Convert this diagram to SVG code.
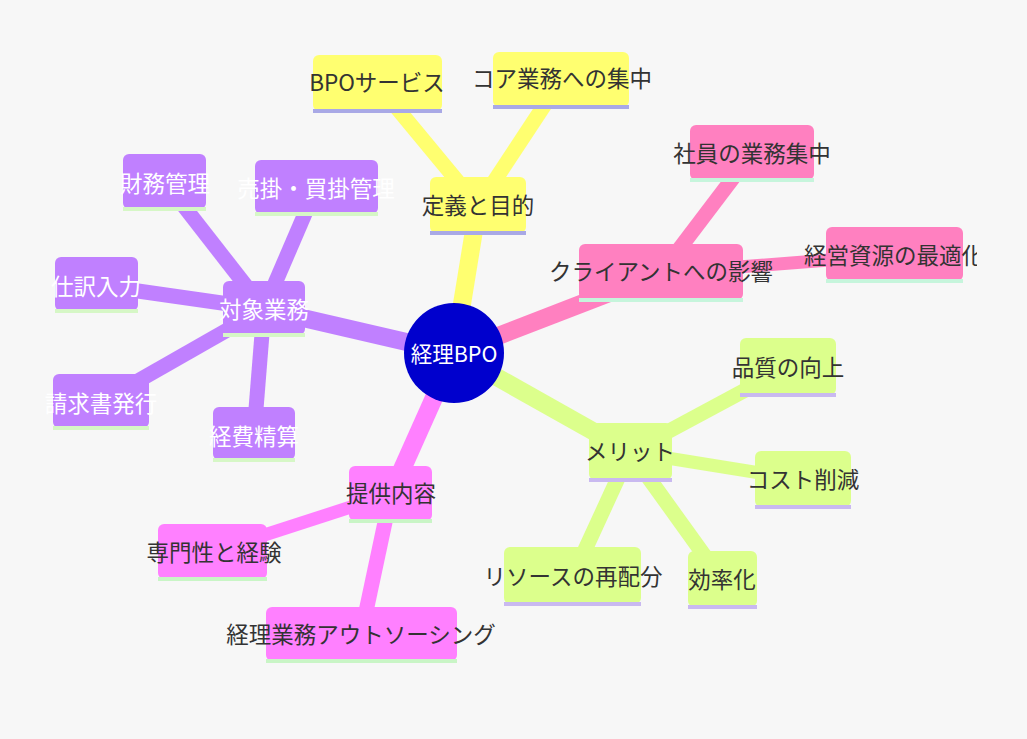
<svg xmlns="http://www.w3.org/2000/svg" width="1027" height="739" viewBox="0 0 1027 739">
<style>
  text{font-family:"Noto Sans CJK JP","Noto Sans",sans-serif;font-size:22.5px;text-anchor:middle;dominant-baseline:central;fill:#333}
  .w{fill:#fff}
  .y{fill:#ffff70}.ys{fill:#a9a9e6}
  .p{fill:#c080ff}.ps{fill:#d6f7c6}
  .k{fill:#ff80c0}.ks{fill:#c6f5dc}
  .g{fill:#dcff8c}.gs{fill:#c9b9f0}
  .m{fill:#ff80ff}.ms{fill:#c9f5c6}
  .ly{stroke:#ffff70}.lp{stroke:#c080ff}.lk{stroke:#ff80c0}.lg{stroke:#dcff8c}.lm{stroke:#ff80ff}
  line{stroke-linecap:butt;fill:none}
  .main{stroke-width:18}.leaf{stroke-width:15}.thin{stroke-width:13}
</style>
<defs>
  <clipPath id="clipRes"><rect x="780" y="220" width="197" height="70"/></clipPath>
</defs>
<rect x="0" y="0" width="1027" height="739" fill="#f7f7f7"/>
<g id="connectors">
  <line class="ly main" x1="454" y1="353" x2="478" y2="206"/>
  <line class="lk main" x1="454" y1="353" x2="661" y2="273"/>
  <line class="lg main" x1="454" y1="353" x2="630" y2="452"/>
  <line class="lm main" x1="454" y1="353" x2="391" y2="494"/>
  <line class="lp main" x1="454" y1="353" x2="264" y2="309"/>
  <line class="ly leaf" x1="478" y1="206" x2="377" y2="84"/>
  <line class="ly leaf" x1="478" y1="206" x2="561" y2="80"/>
  <line class="lk leaf" x1="661" y1="273" x2="752" y2="153"/>
  <line class="lk thin" x1="661" y1="273" x2="894" y2="255"/>
  <line class="lg leaf" x1="630" y1="452" x2="788" y2="367"/>
  <line class="lg thin" x1="630" y1="452" x2="803" y2="480"/>
  <line class="lg leaf" x1="630" y1="452" x2="573" y2="576"/>
  <line class="lg leaf" x1="630" y1="452" x2="722" y2="580"/>
  <line class="lm thin" x1="391" y1="494" x2="212" y2="552"/>
  <line class="lm leaf" x1="391" y1="494" x2="361" y2="635"/>
  <line class="lp leaf" x1="264" y1="309" x2="165" y2="182"/>
  <line class="lp leaf" x1="264" y1="309" x2="316" y2="188"/>
  <line class="lp leaf" x1="264" y1="309" x2="96" y2="285"/>
  <line class="lp leaf" x1="264" y1="309" x2="101" y2="402"/>
  <line class="lp leaf" x1="264" y1="309" x2="254" y2="434"/>
</g>
<g id="root">
  <circle cx="454" cy="353" r="50" fill="#0000cd"/>
  <text class="w" x="454" y="352" style="font-size:21.5px">経理BPO</text>
</g>
<g id="n_def"><rect class="y" x="430" y="177" width="96" height="56" rx="6"/><rect class="ys" x="430" y="231" width="96" height="4"/><text x="478" y="204">定義と目的</text></g>
<g id="n_bpo"><rect class="y" x="313" y="55" width="129" height="56" rx="6"/><rect class="ys" x="313" y="109" width="129" height="4"/><text x="377" y="81">BPOサービス</text></g>
<g id="n_core"><rect class="y" x="493" y="52" width="136" height="55" rx="6"/><rect class="ys" x="493" y="105" width="136" height="4"/><text x="562" y="77">コア業務への集中</text></g>
<g id="n_client"><rect class="k" x="579" y="244" width="164" height="56" rx="6"/><rect class="ks" x="579" y="298" width="164" height="4"/><text x="661" y="270">クライアントへの影響</text></g>
<g id="n_emp"><rect class="k" x="690" y="125" width="124" height="55" rx="6"/><rect class="ks" x="690" y="178" width="124" height="4"/><text x="752" y="152">社員の業務集中</text></g>
<g id="n_res"><rect class="k" x="826" y="227" width="137" height="54" rx="6"/><rect class="ks" x="826" y="279" width="137" height="4"/><text x="894" y="254" clip-path="url(#clipRes)">経営資源の最適化</text></g>
<g id="n_merit"><rect class="g" x="589" y="423" width="83" height="57" rx="6"/><rect class="gs" x="589" y="478" width="83" height="4"/><text x="630" y="450">メリット</text></g>
<g id="n_quality"><rect class="g" x="740" y="338" width="96" height="57" rx="6"/><rect class="gs" x="740" y="393" width="96" height="4"/><text x="788" y="366">品質の向上</text></g>
<g id="n_cost"><rect class="g" x="755" y="451" width="96" height="56" rx="6"/><rect class="gs" x="755" y="505" width="96" height="4"/><text x="803" y="478">コスト削減</text></g>
<g id="n_realloc"><rect class="g" x="504" y="547" width="137" height="57" rx="6"/><rect class="gs" x="504" y="602" width="137" height="4"/><text x="573" y="575">リソースの再配分</text></g>
<g id="n_eff"><rect class="g" x="688" y="551" width="69" height="56" rx="6"/><rect class="gs" x="688" y="605" width="69" height="4"/><text x="722" y="578">効率化</text></g>
<g id="n_provide"><rect class="m" x="349" y="466" width="83" height="55" rx="6"/><rect class="ms" x="349" y="519" width="83" height="4"/><text x="391" y="492">提供内容</text></g>
<g id="n_expert"><rect class="m" x="158" y="524" width="109" height="55" rx="6"/><rect class="ms" x="158" y="577" width="109" height="4"/><text x="214" y="551">専門性と経験</text></g>
<g id="n_out"><rect class="m" x="266" y="607" width="191" height="54" rx="6"/><rect class="ms" x="266" y="659" width="191" height="4"/><text x="361" y="633">経理業務アウトソーシング</text></g>
<g id="n_target"><rect class="p" x="223" y="281" width="82" height="54" rx="6"/><rect class="ps" x="223" y="333" width="82" height="4"/><text class="w" x="264" y="308">対象業務</text></g>
<g id="n_fin"><rect class="p" x="123" y="154" width="83" height="55" rx="6"/><rect class="ps" x="123" y="207" width="83" height="4"/><text class="w" x="165" y="182">財務管理</text></g>
<g id="n_ar"><rect class="p" x="255" y="160" width="123" height="54" rx="6"/><rect class="ps" x="255" y="212" width="123" height="4"/><text class="w" x="316" y="187">売掛・買掛管理</text></g>
<g id="n_journal"><rect class="p" x="55" y="257" width="83" height="54" rx="6"/><rect class="ps" x="55" y="309" width="83" height="4"/><text class="w" x="96" y="285">仕訳入力</text></g>
<g id="n_invoice"><rect class="p" x="53" y="374" width="96" height="54" rx="6"/><rect class="ps" x="53" y="426" width="96" height="4"/><text class="w" x="101" y="402">請求書発行</text></g>
<g id="n_exp"><rect class="p" x="213" y="407" width="82" height="53" rx="6"/><rect class="ps" x="213" y="458" width="82" height="4"/><text class="w" x="254" y="435">経費精算</text></g>
</svg>
